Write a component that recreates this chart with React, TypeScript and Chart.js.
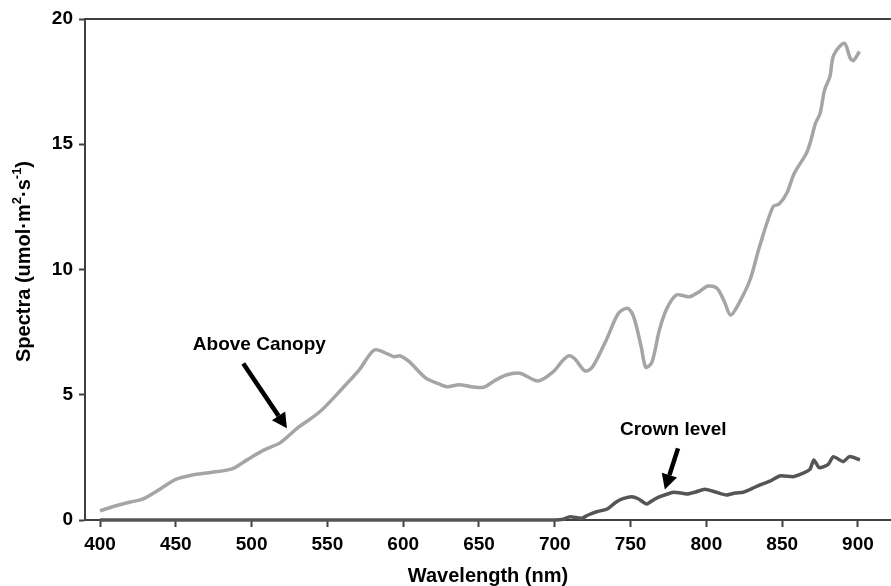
import React, { useEffect, useRef } from "react";
import { Chart, registerables } from "chart.js";

Chart.register(...registerables);

// ---- Data ----
const canopyWavelength = [
  400, 410, 420, 428, 440, 450, 461, 472, 487, 497, 508, 519, 530, 545, 560, 571, 581, 590, 594, 598,
  604, 615, 624, 629, 637, 645, 653, 660, 668, 677, 689, 699, 705, 709, 713, 720, 725, 734, 742, 748,
  752, 757, 760, 764, 769, 774, 780, 785, 789, 795, 801, 807, 812, 816, 822, 829, 835, 844, 848, 853,
  858, 866, 869, 872, 875, 878, 881.5, 884, 891, 895, 897, 901,
];
const canopySpectra = [
  0.37, 0.56, 0.72, 0.83, 1.25, 1.62, 1.8, 1.89, 2.04, 2.4, 2.79, 3.09, 3.66, 4.32, 5.26, 5.99, 6.79, 6.62, 6.52, 6.55,
  6.32, 5.66, 5.42, 5.32, 5.4, 5.32, 5.3, 5.55, 5.79, 5.86, 5.55, 5.92, 6.35, 6.55, 6.45, 5.95, 6.12, 7.19, 8.25, 8.45,
  8.12, 6.92, 6.1, 6.28, 7.58, 8.45, 8.98, 8.95, 8.91, 9.1, 9.34, 9.25, 8.7, 8.18, 8.71, 9.62, 10.9, 12.51, 12.61, 13.04,
  13.84, 14.64, 15.17, 15.84, 16.23, 17.17, 17.7, 18.56, 19.03, 18.43, 18.34, 18.7,
];

const crownWavelength = [
  400, 700, 705.6, 710, 717.7, 722, 727.6, 734.2, 740.8, 745, 750.7, 755, 760.6, 765, 769.4, 778.2, 783, 787,
  793, 799, 806, 813.3, 819, 824.3, 830, 835.4, 842, 848.5, 857.3, 863, 868.3, 870.9, 874.5, 880.4, 883.7,
  890.3, 894.3, 901.3,
];
const crownSpectra = [
  0, 0, 0.03, 0.13, 0.07, 0.2, 0.33, 0.43, 0.73, 0.85, 0.93, 0.85, 0.64, 0.8, 0.93, 1.11, 1.08, 1.04,
  1.12, 1.23, 1.12, 1.0, 1.08, 1.11, 1.25, 1.4, 1.55, 1.76, 1.73, 1.85, 2.02, 2.4, 2.09, 2.22, 2.53,
  2.33, 2.53, 2.4,
];

const xTickValues = [400, 450, 500, 550, 600, 650, 700, 750, 800, 850, 900];
const yTickValues = [0, 5, 10, 15, 20];

const xTitle = "Wavelength (nm)";
// y title pieces: [text, isSuperscript]
const yTitleParts: [string, boolean][] = [
  ["Spectra (umol·m", false],
  ["2", true],
  ["·s", false],
  ["-1", true],
  [")", false],
];

// annotations in data coordinates
const annotationLabels = ["Above Canopy", "Crown level"];
const annotationTextX = [505.1, 778.2];
const annotationTextY = [6.99, 3.62];
const arrowTailX = [494.5, 781.3];
const arrowTailY = [6.25, 2.86];
const arrowTipX = [523.3, 772.6];
const arrowTipY = [3.66, 1.22];

const FONT = "'Liberation Sans', Arial, sans-serif";
const AXIS_COLOR = "#404040";

const decorPlugin = {
  id: "decor",
  afterDraw(chart: any) {
    const { ctx, chartArea, scales } = chart;
    const xs = scales.x;
    const ys = scales.y;
    ctx.save();
    // top border line
    ctx.strokeStyle = AXIS_COLOR;
    ctx.lineWidth = 2;
    ctx.beginPath();
    ctx.moveTo(chartArea.left - 1, chartArea.top);
    ctx.lineTo(chartArea.right, chartArea.top);
    ctx.stroke();

    // y axis title with superscripts
    const mainFont = `bold 20px ${FONT}`;
    const supFont = `bold 13px ${FONT}`;
    let total = 0;
    for (const [t, sup] of yTitleParts) {
      ctx.font = sup ? supFont : mainFont;
      total += ctx.measureText(t).width;
    }
    ctx.save();
    ctx.translate(24, (chartArea.top + chartArea.bottom) / 2 - 8);
    ctx.rotate(-Math.PI / 2);
    ctx.fillStyle = "#000";
    ctx.textAlign = "left";
    ctx.textBaseline = "middle";
    let cx = -total / 2;
    for (const [t, sup] of yTitleParts) {
      ctx.font = sup ? supFont : mainFont;
      ctx.fillText(t, cx, sup ? -7 : 0);
      cx += ctx.measureText(t).width;
    }
    ctx.restore();

    // annotations
    ctx.fillStyle = "#000";
    ctx.strokeStyle = "#000";
    ctx.font = `bold 19px ${FONT}`;
    ctx.textAlign = "center";
    ctx.textBaseline = "middle";
    for (let i = 0; i < annotationLabels.length; i++) {
      ctx.fillText(
        annotationLabels[i],
        xs.getPixelForValue(annotationTextX[i]),
        ys.getPixelForValue(annotationTextY[i])
      );
      const x1 = xs.getPixelForValue(arrowTailX[i]);
      const y1 = ys.getPixelForValue(arrowTailY[i]);
      const x2 = xs.getPixelForValue(arrowTipX[i]);
      const y2 = ys.getPixelForValue(arrowTipY[i]);
      const ang = Math.atan2(y2 - y1, x2 - x1);
      const headLen = 15;
      const headW = 8;
      const bx = x2 - headLen * Math.cos(ang);
      const by = y2 - headLen * Math.sin(ang);
      ctx.lineWidth = 4.5;
      ctx.lineCap = "butt";
      ctx.beginPath();
      ctx.moveTo(x1, y1);
      ctx.lineTo(bx, by);
      ctx.stroke();
      ctx.beginPath();
      ctx.moveTo(x2, y2);
      ctx.lineTo(bx + headW * Math.sin(ang), by - headW * Math.cos(ang));
      ctx.lineTo(bx - headW * Math.sin(ang), by + headW * Math.cos(ang));
      ctx.closePath();
      ctx.fill();
    }
    ctx.restore();
  },
};

export default function App() {
  const ref = useRef<HTMLCanvasElement>(null);

  useEffect(() => {
    if (!ref.current) return;
    const chart = new Chart(ref.current, {
      type: "line",
      data: {
        datasets: [
          {
            label: "Above Canopy",
            data: canopyWavelength.map((x, i) => ({ x, y: canopySpectra[i] })),
            borderColor: "#a5a5a5",
            borderWidth: 3.5,
            pointRadius: 0,
            tension: 0.3,
            fill: false,
            clip: 6,
          },
          {
            label: "Crown level",
            data: crownWavelength.map((x, i) => ({ x, y: crownSpectra[i] })),
            borderColor: "#555555",
            borderWidth: 3.5,
            pointRadius: 0,
            tension: 0.2,
            fill: false,
            clip: 6,
          },
        ],
      },
      options: {
        animation: false,
        responsive: false,
        layout: { padding: { top: 19, right: 0, left: 0, bottom: 0 } },
        plugins: { legend: { display: false }, tooltip: { enabled: false } },
        scales: {
          x: {
            type: "linear",
            min: 390.1,
            max: 921.8,
            afterBuildTicks: (scale: any) => {
              scale.ticks = xTickValues.map((v) => ({ value: v }));
            },
            afterFit: (scale: any) => {
              scale.height = 66;
            },
            grid: {
              drawOnChartArea: false,
              drawTicks: true,
              tickLength: 7,
              tickWidth: 2,
              tickColor: AXIS_COLOR,
            },
            border: { display: true, color: AXIS_COLOR, width: 2 },
            ticks: {
              color: "#000",
              font: { family: FONT, size: 19, weight: "bold" },
              padding: 6,
              maxRotation: 0,
              autoSkip: false,
            },
            title: {
              display: true,
              text: xTitle,
              color: "#000",
              font: { family: FONT, size: 20, weight: "bold", lineHeight: 1 },
              padding: { top: 0, bottom: 0 },
            },
          },
          y: {
            type: "linear",
            min: 0,
            max: 20,
            afterBuildTicks: (scale: any) => {
              scale.ticks = yTickValues.map((v) => ({ value: v }));
            },
            afterFit: (scale: any) => {
              scale.width = 85;
            },
            grid: {
              drawOnChartArea: false,
              drawTicks: true,
              tickLength: 6,
              tickWidth: 2,
              tickColor: AXIS_COLOR,
            },
            border: { display: true, color: AXIS_COLOR, width: 2 },
            ticks: {
              color: "#000",
              font: { family: FONT, size: 19, weight: "bold" },
              padding: 6,
            },
            title: { display: false },
          },
        },
      },
      plugins: [decorPlugin],
    } as any);
    return () => chart.destroy();
  }, []);

  return (
    <div style={{ position: "absolute", left: 0, top: 0, width: 891, height: 586 }}>
      <canvas ref={ref} width={891} height={586} style={{ display: "block" }} />
    </div>
  );
}
